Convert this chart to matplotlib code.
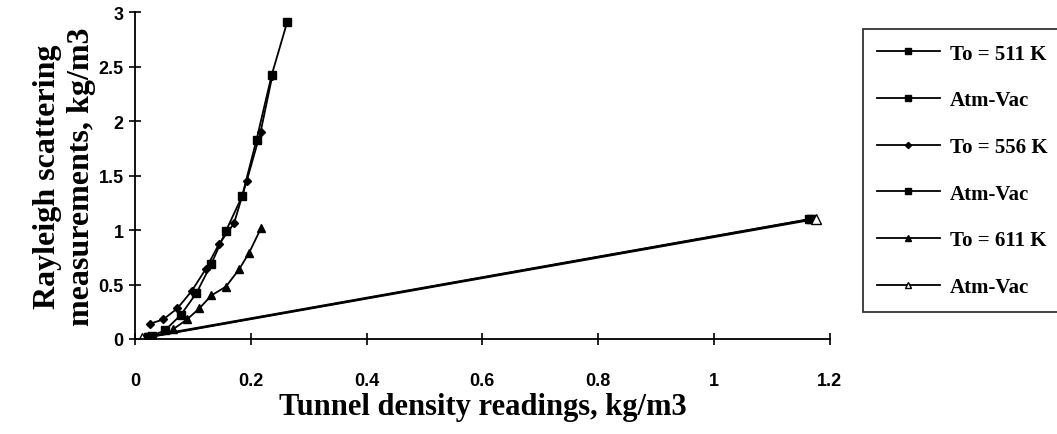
import matplotlib.pyplot as plt

# Data
x_511 = [0.023, 0.052, 0.079, 0.106, 0.132, 0.157, 0.185, 0.210, 0.236, 0.263]
y_511 = [0.015, 0.08, 0.22, 0.42, 0.69, 0.99, 1.31, 1.83, 2.42, 2.91]

x_556 = [0.026, 0.049, 0.073, 0.098, 0.122, 0.145, 0.171, 0.193, 0.217, 0.237]
y_556 = [0.14, 0.18, 0.28, 0.44, 0.64, 0.87, 1.06, 1.45, 1.90, 2.41]

x_611 = [0.066, 0.090, 0.111, 0.132, 0.157, 0.180, 0.197, 0.218]
y_611 = [0.09, 0.18, 0.28, 0.40, 0.48, 0.64, 0.79, 1.02]

x_atm1 = [0.030, 1.165]
y_atm1 = [0.03, 1.10]
x_atm2 = [0.025, 1.167]
y_atm2 = [0.02, 1.10]
x_atm3 = [0.012, 1.176]
y_atm3 = [0.005, 1.10]

labels = ['To = 511 K', 'Atm-Vac', 'To = 556 K', 'Atm-Vac', 'To = 611 K', 'Atm-Vac']

fig = plt.figure(figsize=(10.57, 4.35), dpi=100)
ax = fig.add_axes([0.1277, 0.2184, 0.6573, 0.7516])

lw = 1.3
ax.plot(x_511, y_511, color='black', lw=lw, marker='s', ms=6, label=labels[0])
ax.plot(x_atm1, y_atm1, color='black', lw=lw, marker='s', ms=6, label=labels[1])
ax.plot(x_556, y_556, color='black', lw=lw, marker='D', ms=4.5, label=labels[2])
ax.plot(x_atm2, y_atm2, color='black', lw=lw, marker='s', ms=6, label=labels[3])
ax.plot(x_611, y_611, color='black', lw=lw, marker='^', ms=6, label=labels[4])
ax.plot(x_atm3, y_atm3, color='black', lw=lw, marker='^', ms=7,
        markerfacecolor='white', label=labels[5])

# Axis setup
ax.set_xlim(0, 1.2)
ax.set_ylim(0, 3)
ax.set_xticks([0, 0.2, 0.4, 0.6, 0.8, 1, 1.2])
ax.set_xticklabels(['0', '0.2', '0.4', '0.6', '0.8', '1', '1.2'])
ax.set_yticks([0, 0.5, 1, 1.5, 2, 2.5, 3])
ax.set_yticklabels(['0', '0.5', '1', '1.5', '2', '2.5', '3'])
ax.spines['top'].set_visible(False)
ax.spines['right'].set_visible(False)
ax.spines['left'].set_linewidth(1.3)
ax.spines['bottom'].set_linewidth(1.3)
ax.tick_params(direction='inout', length=8, width=1.2)
ax.tick_params(axis='y', pad=4)
ax.tick_params(axis='x', pad=20)
for t in ax.get_xticklabels() + ax.get_yticklabels():
    t.set_fontfamily('Liberation Sans')
    t.set_fontweight('bold')
    t.set_fontsize(13)

ax.set_xlabel('Tunnel density readings, kg/m3', family='Liberation Serif',
              fontweight='bold', fontsize=22, labelpad=2)
ax.set_ylabel('Rayleigh scattering\nmeasurements, kg/m3', family='Liberation Serif',
              fontweight='bold', fontsize=23, labelpad=2, linespacing=1.23)

# Legend box on the right
leg = fig.legend(loc='upper left', bbox_to_anchor=(0.816, 0.931),
                 prop={'family': 'Liberation Serif', 'size': 15, 'weight': 'bold'},
                 handlelength=3.0, handletextpad=0.48, labelspacing=1.28,
                 markerscale=0.7, fancybox=False, edgecolor='black',
                 borderpad=0.7, borderaxespad=0)
leg.get_frame().set_linewidth(1.3)

plt.savefig('out.png', dpi=100)
